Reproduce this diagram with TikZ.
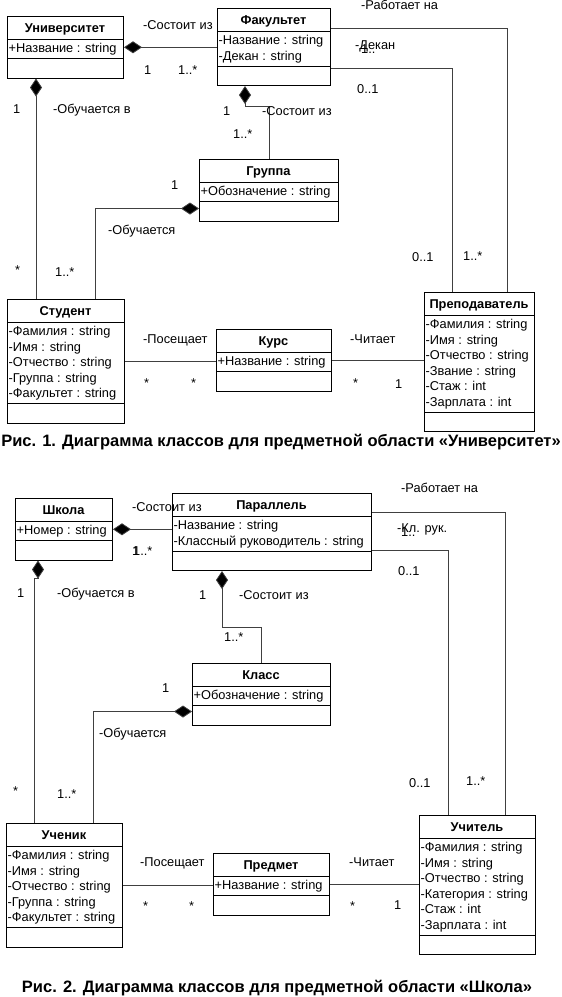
\documentclass[tikz,border=0pt]{standalone}
\usepackage{fontspec}
\setmainfont{Liberation Sans}
\usetikzlibrary{calc,arrows.meta}

\newcommand{\umlclass}[7]{%
  \node[classbox,minimum width=#4pt,minimum height={(46+15.5*#5)*1pt}] (#1) at (#2,#3) {};
  \node[ctitle] (#1-title) at ($(#1.north west)+(#4/2,11.5)$) {#6};
  \draw[sep] ($(#1.north west)+(0,23)$) -- ($(#1.north east)+(0,23)$);
  \node[cattr] (#1-attr) at ($(#1.north west)+(1.5,25.6)$) {\strut#7};
  \draw[sep] ($(#1.north west)+(0,27+15.5*#5)$) -- ($(#1.north east)+(0,27+15.5*#5)$);
}

\begin{document}
\begin{tikzpicture}[x=1pt,y=-1pt,font=\fontsize{12.8}{15.5}\selectfont,
  classbox/.style={draw,line width=1pt,inner sep=0pt,anchor=north west},
  sep/.style={line width=1pt},
  ctitle/.style={font=\fontsize{12.8}{15.5}\selectfont\bfseries,inner sep=0pt,text height=9pt,text depth=0pt},
  cattr/.style={align=left,inner sep=0pt,anchor=north west},
  lbl/.style={inner sep=0pt,anchor=west,text height=9pt,text depth=0pt},
  assoc/.style={draw=black!75,line width=0.8pt},
  comp/.style={assoc,{Diamond[length=18pt,width=12pt,fill=black]}-},
  caption/.style={font=\fontsize{16.5}{19}\selectfont\bfseries,inner sep=0pt}]
\useasboundingbox (0,0) rectangle (562,997);

% Рис. 1
\umlclass{uni}{7}{16}{116}{1}{Университет}{+Название : string}
\umlclass{fac}{217}{8}{113}{2}{Факультет}{-Название : string\\-Декан : string}
\umlclass{grp}{199}{159}{139}{1}{Группа}{+Обозначение : string}
\umlclass{stu}{7}{299}{117}{5}{Студент}{-Фамилия : string\\-Имя : string\\-Отчество : string\\-Группа : string\\-Факультет : string}
\umlclass{crs}{216}{329}{115}{1}{Курс}{+Название : string}
\umlclass{tch}{424}{292}{110}{6}{Преподаватель}{-Фамилия : string\\-Имя : string\\-Отчество : string\\-Звание : string\\-Стаж : int\\-Зарплата : int}

\draw[comp] (uni.east) -- (uni.east -| fac.west);
\draw[comp] ($(uni.south west)+(29,0)$) -- ($(stu.north west)+(29,0)$);
\draw[comp] ($(fac.south west)+(28,0)$) -- ++(0,20) -| (grp.north);
\draw[comp] ($(grp.south west)+(0,-13)$) -| ($(stu.north west)+(88,0)$);
\draw[assoc] (stu.east) -- (stu.east -| crs.west);
\draw[assoc] (crs.east) -- (crs.east -| tch.west);
\draw[assoc] ($(fac.north east)+(0,20)$) -| ($(tch.north west)+(83,0)$);
\draw[assoc] ($(fac.north east)+(0,60)$) -| ($(tch.north west)+(28,0)$);

\node[lbl] (uf-name) at (143,25) {-Состоит из};
\node[lbl] (uf-m1) at (144,70) {1};
\node[lbl] (uf-m2) at (178,70) {1..*};
\node[lbl] (us-m1) at (13,109) {1};
\node[lbl] (us-name) at (53,109) {-Обучается в};
\node[lbl] (fg-m1) at (223,111) {1};
\node[lbl] (fg-name) at (262,111) {-Состоит из};
\node[lbl] (fg-m2) at (233,134) {1..*};
\node[lbl] (gs-m1) at (171,185) {1};
\node[lbl] (gs-name) at (108,230) {-Обучается};
\node[lbl] (us-m2) at (15,270) {*};
\node[lbl] (gs-m2) at (55,272) {1..*};
\node[lbl] (sc-name) at (143,339) {-Посещает};
\node[lbl] (sc-m1) at (144,383) {*};
\node[lbl] (sc-m2) at (191,383) {*};
\node[lbl] (ct-name) at (350,339) {-Читает};
\node[lbl] (ct-m1) at (353,383) {*};
\node[lbl] (ct-m2) at (395,384) {1};
\node[lbl] (ft-name) at (361,5) {-Работает на};
\node[lbl] (fd-name) at (355,45) {-Декан};
\node[lbl] (fd-m2) at (361,49) {1..};
\node[lbl] (fd-m1) at (357,89) {0..1};
\node[lbl] (td-m) at (412,257) {0..1};
\node[lbl] (tf-m) at (463,256) {1..*};

\node[caption] (cap1) at (281,442) {Рис. 1. Диаграмма классов для предметной области «Университет»};

% Рис. 2
\umlclass{sch}{15}{498}{97}{1}{Школа}{+Номер : string}
\umlclass{par}{172}{493}{199}{2}{Параллель}{-Название : string\\-Классный руководитель : string}
\umlclass{cls}{192}{663}{138}{1}{Класс}{+Обозначение : string}
\umlclass{pup}{6}{823}{116}{5}{Ученик}{-Фамилия : string\\-Имя : string\\-Отчество : string\\-Группа : string\\-Факультет : string}
\umlclass{sbj}{213}{853}{116}{1}{Предмет}{+Название : string}
\umlclass{tea}{419}{815}{116}{6}{Учитель}{-Фамилия : string\\-Имя : string\\-Отчество : string\\-Категория : string\\-Стаж : int\\-Зарплата : int}

\draw[comp] (sch.east) -- (sch.east -| par.west);
\draw[comp] ($(sch.south west)+(23,0)$) -- ++(0,18) -| ($(pup.north west)+(28,0)$);
\draw[comp] ($(par.south west)+(50,0)$) -- ++(0,56) -| (cls.north);
\draw[comp] ($(cls.south west)+(0,-14)$) -| ($(pup.north west)+(87,0)$);
\draw[assoc] (pup.east) -- (pup.east -| sbj.west);
\draw[assoc] (sbj.east) -- (sbj.east -| tea.west);
\draw[assoc] ($(par.north east)+(0,19)$) -| ($(tea.north west)+(86,0)$);
\draw[assoc] ($(par.north east)+(0,57)$) -| ($(tea.north west)+(29,0)$);

\node[lbl] (sp-name) at (132,507) {-Состоит из};
\node[lbl] (sp-m1) at (132,551) {1};
\node[lbl] (sp-m2) at (133,551) {1..*};
\node[lbl] (su-m1) at (17,593) {1};
\node[lbl] (su-name) at (57,593) {-Обучается в};
\node[lbl] (pc-m1) at (199,595) {1};
\node[lbl] (pc-name) at (239,595) {-Состоит из};
\node[lbl] (pc-m2) at (224,637) {1..*};
\node[lbl] (cu-m1) at (162,688) {1};
\node[lbl] (cu-name) at (99,733) {-Обучается};
\node[lbl] (su-m2) at (13,791) {*};
\node[lbl] (cu-m2) at (57,794) {1..*};
\node[lbl] (ub-name) at (140,862) {-Посещает};
\node[lbl] (ub-m1) at (143,906) {*};
\node[lbl] (ub-m2) at (189,906) {*};
\node[lbl] (bt-name) at (349,862) {-Читает};
\node[lbl] (bt-m1) at (350,906) {*};
\node[lbl] (bt-m2) at (394,905) {1};
\node[lbl] (pt-name) at (401,488) {-Работает на};
\node[lbl] (pk-name) at (397,528) {-Кл. рук.};
\node[lbl] (pk-m2) at (401,532) {1..};
\node[lbl] (pk-m1) at (398,571) {0..1};
\node[lbl] (tk-m) at (409,783) {0..1};
\node[lbl] (tp-m) at (466,781) {1..*};

\node[caption] (cap2) at (277,988) {Рис. 2. Диаграмма классов для предметной области «Школа»};
\end{tikzpicture}
\end{document}
